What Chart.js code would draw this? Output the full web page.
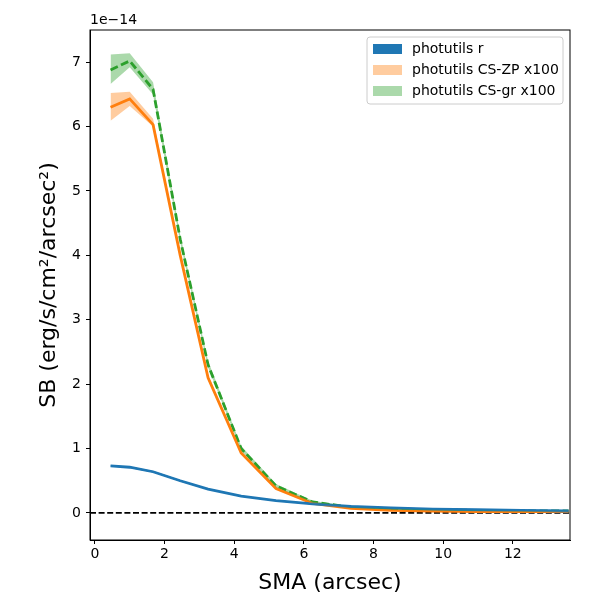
<!DOCTYPE html>
<html>
<head>
<meta charset="utf-8">
<script src="https://cdn.jsdelivr.net/npm/chart.js@4.4.1/dist/chart.umd.min.js"></script>
<style>
  body { margin: 0; background: #fff; }
  #wrap { width: 600px; height: 600px; }
</style>
</head>
<body>
<div id="wrap"><canvas id="sbprof"></canvas></div>
<script>
// SB profile, values in units of 1e-14 erg/s/cm^2/arcsec^2
const sma = [0.45, 1.0, 1.67, 2.45, 3.25, 4.2, 5.2, 6.25, 7.35, 8.5, 9.7, 10.95, 12.25, 13.6];
const sbR = [0.73, 0.71, 0.64, 0.50, 0.37, 0.26, 0.19, 0.14, 0.10, 0.08, 0.06, 0.05, 0.04, 0.03];
const sbRLo = [0.72, 0.70, 0.63, 0.49, 0.36, 0.25, 0.18, 0.13, 0.09, 0.07, 0.05, 0.04, 0.03, 0.02];
const sbRHi = [0.74, 0.72, 0.65, 0.51, 0.38, 0.27, 0.20, 0.15, 0.11, 0.09, 0.07, 0.06, 0.05, 0.04];
const sbZP = [6.30, 6.43, 6.03, 4.00, 2.10, 0.93, 0.38, 0.15, 0.07, 0.04, 0.03, 0.02, 0.02, 0.02];
const sbZPLo = [6.09, 6.32, 6.00, 3.96, 2.07, 0.91, 0.37, 0.14, 0.06, 0.03, 0.02, 0.01, 0.01, 0.01];
const sbZPHi = [6.52, 6.54, 6.12, 4.05, 2.14, 0.96, 0.40, 0.16, 0.08, 0.05, 0.04, 0.03, 0.03, 0.03];
const sbGR = [6.88, 7.02, 6.58, 4.25, 2.30, 1.00, 0.42, 0.17, 0.09, 0.06, 0.05, 0.04, 0.03, 0.03];
const sbGRLo = [6.66, 6.92, 6.50, 4.20, 2.26, 0.97, 0.40, 0.16, 0.08, 0.05, 0.04, 0.03, 0.02, 0.02];
const sbGRHi = [7.12, 7.14, 6.69, 4.32, 2.36, 1.04, 0.45, 0.19, 0.10, 0.07, 0.06, 0.05, 0.04, 0.04];
const bandLabels = ["photutils r", "photutils CS-ZP x100", "photutils CS-gr x100"];

const pts = (arr) => sma.map((x, i) => ({ x: x, y: arr[i] }));
const font = "'DejaVu Sans', sans-serif";

function band(lo, hi, fillCol) {
  return [
    { data: pts(lo), borderWidth: 0, pointRadius: 0, fill: false, tension: 0 },
    { data: pts(hi), borderWidth: 0, pointRadius: 0, fill: "-1", backgroundColor: fillCol, tension: 0 },
  ];
}

// frame, zero line, offset text and legend box
const extras = {
  id: "extras",
  beforeDatasetsDraw(chart) {
    const { ctx, chartArea: a, scales } = chart;
    const y0 = scales.y.getPixelForValue(0);
    ctx.save();
    ctx.strokeStyle = "#000";
    ctx.lineWidth = 1.8;
    ctx.setLineDash([6, 2.6]);
    ctx.beginPath();
    ctx.moveTo(a.left, y0);
    ctx.lineTo(a.right, y0);
    ctx.stroke();
    ctx.restore();
  },
  afterDraw(chart) {
    const { ctx, chartArea: a } = chart;
    ctx.save();
    ctx.strokeStyle = "#000";
    ctx.lineWidth = 1;
    ctx.strokeRect(a.left, a.top, a.right - a.left, a.bottom - a.top);
    ctx.fillStyle = "#000";
    ctx.font = "14px " + font;
    ctx.textBaseline = "bottom";
    ctx.fillText("1e\u221214", a.left, a.top - 3);

    // legend
    const cols = ["#1f77b4", "rgba(255,127,14,0.4)", "rgba(44,160,44,0.4)"];
    const bx = 367, by = 37, bw = 196, bh = 67;
    ctx.fillStyle = "rgba(255,255,255,0.8)";
    ctx.strokeStyle = "#cccccc";
    ctx.beginPath();
    ctx.roundRect(bx, by, bw, bh, 3);
    ctx.fill();
    ctx.stroke();
    ctx.font = "14px " + font;
    ctx.textBaseline = "middle";
    bandLabels.forEach((lab, i) => {
      const cy = by + 12 + i * 21;
      ctx.fillStyle = cols[i];
      ctx.fillRect(bx + 6, cy - 5, 29, 10);
      ctx.fillStyle = "#000";
      ctx.fillText(lab, bx + 45, cy);
    });
    ctx.restore();
  },
};

new Chart(document.getElementById("sbprof"), {
  type: "line",
  data: {
    datasets: [
      ...band(sbRLo, sbRHi, "#1f77b4"),
      ...band(sbZPLo, sbZPHi, "rgba(255,127,14,0.4)"),
      ...band(sbGRLo, sbGRHi, "rgba(44,160,44,0.4)"),
      { label: "r", data: pts(sbR), borderColor: "#1f77b4", borderWidth: 2.8, pointRadius: 0, fill: false, tension: 0 },
      { label: "ZP", data: pts(sbZP), borderColor: "#ff7f0e", borderWidth: 2.8, pointRadius: 0, fill: false, tension: 0 },
      { label: "gr", data: pts(sbGR), borderColor: "#2ca02c", borderWidth: 2.8, borderDash: [8, 3.5], pointRadius: 0, fill: false, tension: 0 },
    ],
  },
  options: {
    responsive: true,
    maintainAspectRatio: false,
    animation: false,
    layout: { padding: { left: 0, top: 30, right: 30, bottom: 0 } },
    plugins: { legend: { display: false }, tooltip: { enabled: false } },
    scales: {
      x: {
        type: "linear",
        min: -0.14,
        max: 13.64,
        afterFit: (s) => { s.height = 60; },
        ticks: { stepSize: 2, includeBounds: false, color: "#000", font: { family: font, size: 14 }, padding: 2 },
        grid: { drawOnChartArea: false, drawTicks: true, tickLength: 4, tickColor: "#000" },
        border: { display: true, color: "#000" },
        title: { display: true, text: "SMA (arcsec)", color: "#000", font: { family: font, size: 22 }, padding: { top: 2 } },
      },
      y: {
        min: -0.42,
        max: 7.5,
        afterFit: (s) => { s.width = 90; },
        ticks: { stepSize: 1, includeBounds: false, color: "#000", font: { family: font, size: 14 }, padding: 5 },
        grid: { drawOnChartArea: false, drawTicks: true, tickLength: 4, tickColor: "#000" },
        border: { display: true, color: "#000" },
        title: { display: true, text: "SB (erg/s/cm\u00b2/arcsec\u00b2)", color: "#000", font: { family: font, size: 22 }, padding: { top: 36 } },
      },
    },
  },
  plugins: [extras],
});
</script>
</body>
</html>
